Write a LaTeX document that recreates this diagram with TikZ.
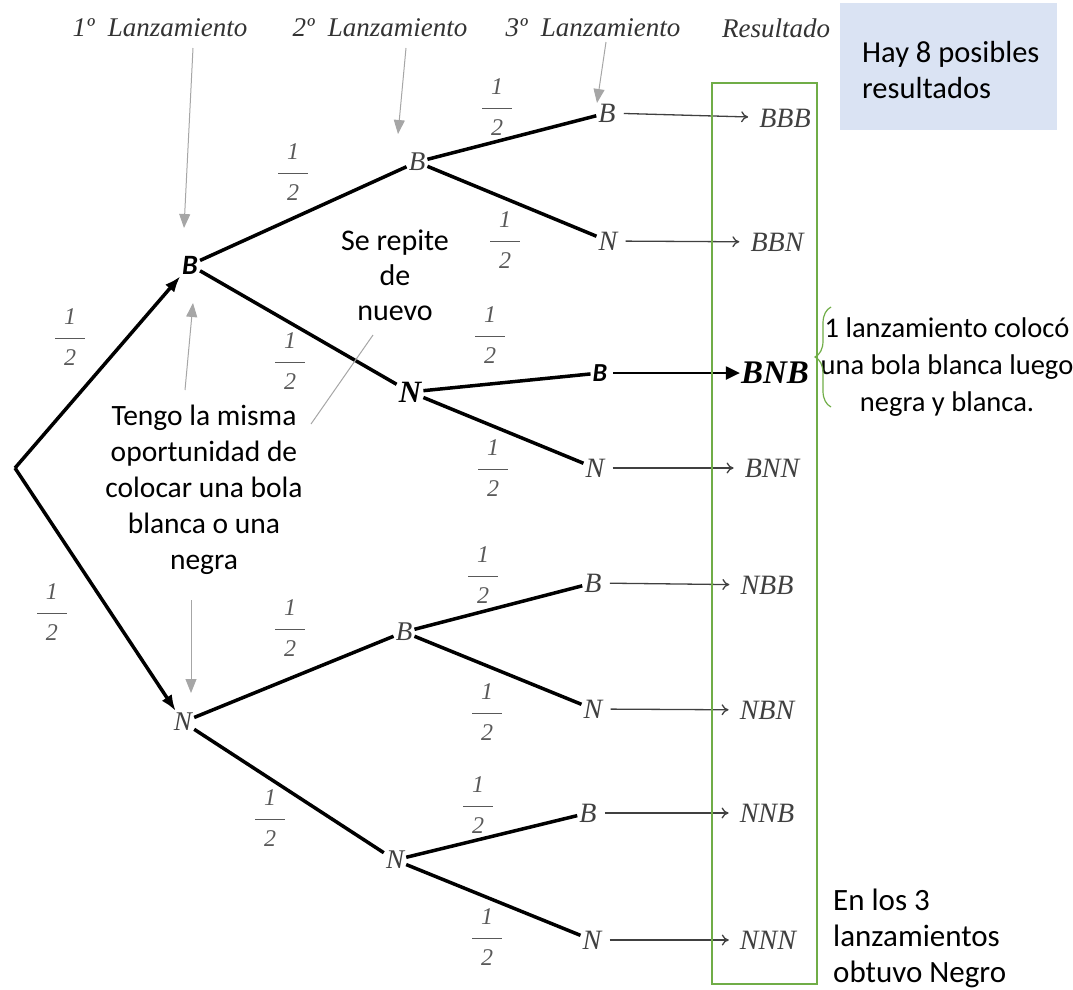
\documentclass[tikz,border=0pt]{standalone}
\usepackage{fontspec}
\setmainfont{Liberation Serif}
\newfontfamily\notefont{Carlito}
\usetikzlibrary{positioning,arrows.meta,decorations.pathreplacing}
\definecolor{resgreen}{HTML}{70AD47}
\definecolor{notefill}{HTML}{DAE3F3}
\definecolor{pointgray}{HTML}{A6A6A6}
\definecolor{fracgray}{HTML}{595959}
\newdimen\tdfracwidth
\setlength{\tdfracwidth}{30pt}
\tikzstyle{headstyle}=[font=\fontsize{27}{30}\selectfont\itshape,text=black!80,inner sep=0pt]
\tikzstyle{treenodestyle}=[font=\fontsize{27}{30}\selectfont\itshape,text=black!75,inner sep=2pt]
\tikzstyle{leafstyle}=[font=\fontsize{28}{30}\selectfont\itshape,text=black!75,inner sep=2pt]
\tikzstyle{boldnodestyle}=[font=\fontsize{31}{34}\selectfont\bfseries\itshape,inner sep=2pt]
\tikzstyle{resultstyle}=[font=\fontsize{28}{30}\selectfont\itshape,text=black!75,inner sep=1pt]
\tikzstyle{fracstyle}=[font=\fontsize{24}{26}\selectfont\itshape,text=fracgray,inner sep=0pt]
\tikzstyle{notestyle}=[font=\notefont\fontsize{29.5}{36}\selectfont,inner sep=0pt]
\tikzstyle{branchstyle}=[line width=3.5pt]
\tikzstyle{outarrowstyle}=[line width=1.3pt,draw=black!75,shorten <=6pt,shorten >=10pt,-{To[length=7pt,width=11pt]}]
\tikzstyle{pointerstyle}=[draw=pointgray,line width=1pt,-{Triangle[length=14pt,width=11pt]}]
\newcommand{\tdhalf}{\vbox{\hbox to\tdfracwidth{\hss 1\hss}\kern13pt\hrule height 1.4pt\kern10pt\hbox to\tdfracwidth{\hss 2\hss}}}
\newcommand{\tdfrac}[2]{\node[fracstyle] at (#1,#2) {\tdhalf};}

\begin{document}
\begin{tikzpicture}[x=1pt,y=-1pt]
\useasboundingbox (0,0) rectangle (1073,989);

% titulos de columnas
\node[headstyle] (h1) at (160,28) {1º\ \ Lanzamiento};
\node[headstyle] (h2) at (380,28) {2º\ \ Lanzamiento};
\node[headstyle] (h3) at (593,28) {3º\ \ Lanzamiento};
\node[headstyle] (h4) at (776,28) {Resultado};

% nodos del arbol
\coordinate (root) at (15,468);
\node[treenodestyle,font=\notefont\fontsize{28}{30}\selectfont\bfseries\itshape,text=black] (b) at (190,265) {B};
\node[treenodestyle] (n) at (183,722) {N};
\node[treenodestyle] (bb) at (417,162) {B};
\node[boldnodestyle] (bn) at (410,392) {N};
\node[treenodestyle] (nb) at (404,632) {B};
\node[treenodestyle] (nn) at (395,860) {N};
\node[leafstyle] (bbb) at (607,113) {B};
\node[leafstyle] (bbn) at (608,241) {N};
\node[boldnodestyle,font=\notefont\fontsize{26}{28}\selectfont\bfseries\itshape] (bnb) at (600,373) {B};
\node[leafstyle] (bnn) at (595,468) {N};
\node[leafstyle] (nbb) at (593,583) {B};
\node[leafstyle] (nbn) at (593,709) {N};
\node[leafstyle] (nnb) at (588,813) {B};
\node[leafstyle] (nnn) at (592,940) {N};

% resultados
\node[resultstyle] (rbbb) at (785,118) {BBB};
\node[resultstyle] (rbbn) at (777,242) {BBN};
\node[boldnodestyle,font=\fontsize{33}{36}\selectfont\bfseries\itshape,inner sep=1pt] (rbnb) at (775,373) {BNB};
\node[resultstyle] (rbnn) at (772,468) {BNN};
\node[resultstyle] (rnbb) at (767,585) {NBB};
\node[resultstyle] (rnbn) at (767,710) {NBN};
\node[resultstyle] (rnnb) at (767,813) {NNB};
\node[resultstyle] (rnnn) at (768,940) {NNN};

% ramas
\draw[branchstyle,-{Latex[length=16pt,width=12pt]}] (root) -- (b);
\draw[branchstyle,-{Latex[length=16pt,width=12pt]}] (root) -- (n);
\draw[branchstyle] (b) -- (bb);
\draw[branchstyle] (b) -- (bn);
\draw[branchstyle] (n) -- (nb);
\draw[branchstyle] (n) -- (nn);
\draw[branchstyle] (bb) -- (bbb);
\draw[branchstyle] (bb) -- (bbn);
\draw[branchstyle] (bn) -- (bnb);
\draw[branchstyle] (bn) -- (bnn);
\draw[branchstyle] (nb) -- (nbb);
\draw[branchstyle] (nb) -- (nbn);
\draw[branchstyle] (nn) -- (nnb);
\draw[branchstyle] (nn) -- (nnn);

% flechas a resultados
\draw[outarrowstyle] (bbb) -- (rbbb);
\draw[outarrowstyle] (bbn) -- (rbbn);
\draw[line width=2.2pt,shorten <=4pt,-{Triangle[length=14pt,width=13pt]}] (bnb) -- (rbnb);
\draw[outarrowstyle] (bnn) -- (rbnn);
\draw[outarrowstyle] (nbb) -- (rnbb);
\draw[outarrowstyle] (nbn) -- (rnbn);
\draw[outarrowstyle] (nnb) -- (rnnb);
\draw[outarrowstyle] (nnn) -- (rnnn);

% probabilidades
\tdfrac{70}{337}
\tdfrac{52}{612}
\tdfrac{293}{172}
\tdfrac{290}{361}
\tdfrac{497}{107}
\tdfrac{505}{240}
\tdfrac{490}{335}
\tdfrac{493}{468}
\tdfrac{290}{628}
\tdfrac{270}{818}
\tdfrac{483}{575}
\tdfrac{487}{712}
\tdfrac{478}{805}
\tdfrac{487}{937}

% recuadro de resultados
\node[draw=resgreen,line width=2pt,minimum width=105pt,minimum height=901pt,inner sep=0pt] (resbox) at (764.5,533.5) {};

% notas
\node[fill=notefill,minimum width=217pt,minimum height=127pt,inner sep=0pt] (hay) at (948.5,66.5) {};
\node[notestyle,font=\notefont\fontsize{30.5}{36}\selectfont,align=left,anchor=west] (haytxt) at (862,70) {Hay 8 posibles\\resultados};
\node[notestyle,align=center] (tengo) at (204,490) {Tengo la misma\\oportunidad de\\colocar una bola\\blanca o una\\negra};
\node[notestyle,font=\notefont\fontsize{30}{35}\selectfont,align=center] (repite) at (395,275) {Se repite\\de\\nuevo};
\node[notestyle,font=\notefont\fontsize{28.5}{37}\selectfont,align=center] (colo) at (947,367) {1 lanzamiento colocó\\una bola blanca luego\\negra y blanca.};
\node[notestyle,font=\notefont\fontsize{31}{36}\selectfont,align=left,anchor=west] (enlos) at (833,938) {En los 3\\lanzamientos\\obtuvo Negro};

% indicadores grises
\coordinate (p1s) at (193,48);
\coordinate (p1e) at (184,228);
\coordinate (p2s) at (406,48);
\coordinate (p2e) at (398,134);
\coordinate (p3s) at (606,42);
\coordinate (p3e) at (597,103);
\coordinate (p4s) at (185,390);
\coordinate (p4e) at (193,303);
\coordinate (p5s) at (191,600);
\coordinate (p5e) at (191,693);
\coordinate (c1s) at (311,424);
\coordinate (c1e) at (373,335);
\draw[pointerstyle] (p1s) -- (p1e);
\draw[pointerstyle] (p2s) -- (p2e);
\draw[pointerstyle] (p3s) -- (p3e);
\draw[pointerstyle] (p4s) -- (p4e);
\draw[pointerstyle] (p5s) -- (p5e);
\draw[draw=pointgray,line width=1pt] (c1s) -- (c1e);

% llave
\coordinate (k1) at (831,407);
\coordinate (k2) at (831,307);
\draw[draw=resgreen,line width=1.2pt,decorate,decoration={brace,amplitude=16pt}] (k1) -- (k2);
\end{tikzpicture}
\end{document}
